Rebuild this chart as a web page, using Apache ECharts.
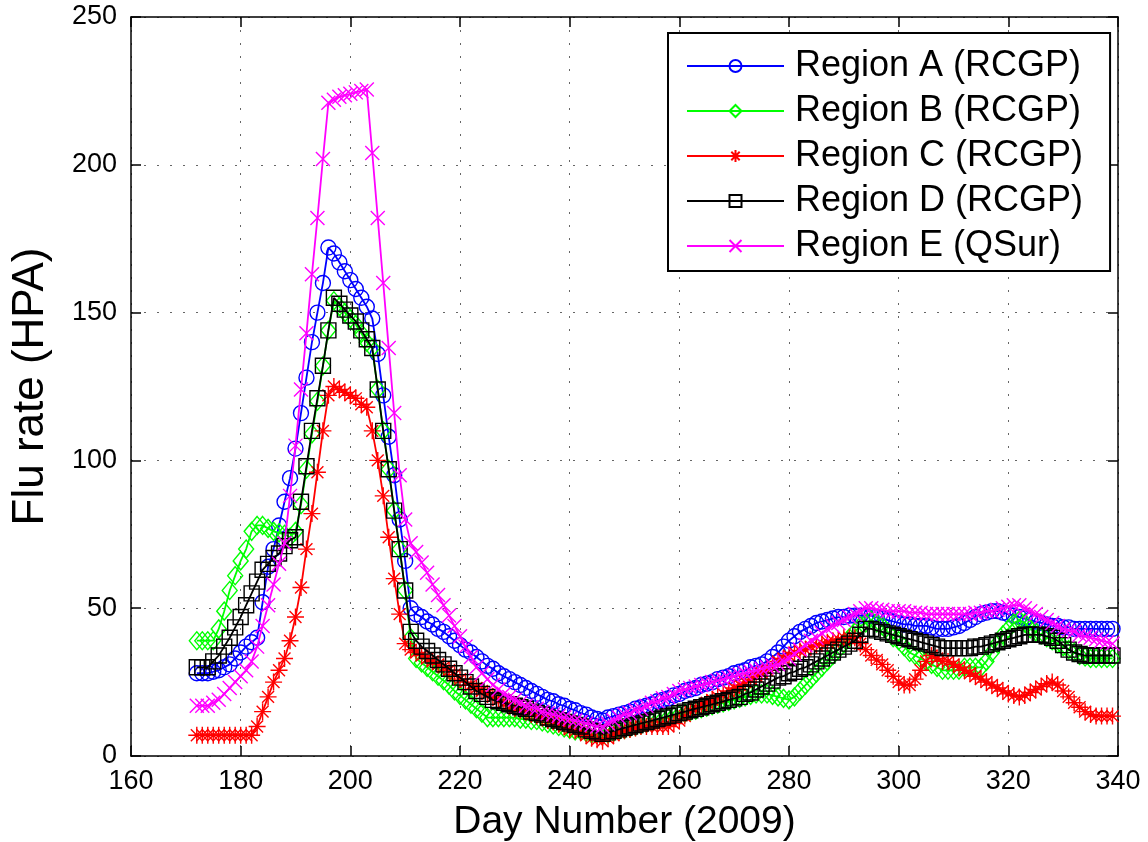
<!DOCTYPE html>
<html>
<head>
<meta charset="utf-8">
<script src="https://cdn.jsdelivr.net/npm/echarts@6/dist/echarts.min.js"></script>
<style>
  html, body { margin: 0; padding: 0; background: #fff; }
  #chart { width: 1148px; height: 842px; }
</style>
</head>
<body>
<div id="chart"></div>
<script>
// first day of the daily series (2009 day number), one value per day up to 339
var firstDay = 172;

var xTicks = [160, 180, 200, 220, 240, 260, 280, 300, 320, 340];
var yTicks = [0, 50, 100, 150, 200, 250];

var names = ['Region A (RCGP)', 'Region B (RCGP)', 'Region C (RCGP)', 'Region D (RCGP)', 'Region E (QSur)'];

var regionA = [
  28, 28, 28, 28.5, 29, 30, 31, 33, 35, 37,
  38.5, 40, 52, 64, 70, 78, 86, 94, 104, 116,
  128, 140, 150, 160, 172, 170, 167, 164, 161, 158,
  155, 152, 148, 136, 122, 108, 95, 80, 66, 50,
  48, 47, 45.5, 44.5, 43, 42, 40.5, 39, 37.5, 36,
  35, 33.5, 32, 30.5, 29.5, 28, 27, 26, 25, 24,
  23, 22, 21, 20, 19, 18.5, 17.5, 17, 16, 15.5,
  14.5, 14, 13, 12.5, 12, 13, 13.5, 14, 14.5, 15,
  16, 16.5, 17, 17.5, 18.5, 19, 19.5, 20.5, 21, 22,
  22.5, 23, 24, 24.5, 25, 26, 26.5, 27, 28, 28.5,
  29, 30, 30.5, 31, 32, 33.5, 35, 37, 39, 40.5,
  42, 43, 44, 45, 45.5, 46, 46.5, 47, 47, 47.5,
  47.5, 47.5, 47.5, 47.5, 47, 46.5, 46, 45.5, 45, 44.5,
  44.5, 44, 44, 44, 43.5, 43, 43, 43, 43.5, 44,
  45, 46, 47, 48, 48.5, 49, 49, 48.5, 48, 47.5,
  47, 46.5, 46, 45.5, 45, 44.5, 44, 44, 43.5, 43.5,
  43, 43, 43, 43, 43, 43, 43, 43
];

var regionB = [
  39, 39, 39, 39, 43, 49, 56, 61, 66, 70,
  76, 78, 78, 77, 76, 75.5, 75, 74, 76, 85,
  97, 109, 120, 132, 144, 154, 152, 150, 148, 146,
  143, 140, 138, 124, 110, 97, 83, 70, 56, 40,
  33, 31.5, 30, 28.5, 27, 25.5, 24, 22, 20.5, 19,
  17.5, 16, 14.5, 13, 13, 13, 13, 13, 13, 12.5,
  12.5, 12, 12, 11.5, 11, 10.5, 10, 9.5, 9, 8.5,
  8.5, 8, 7.5, 7.5, 7, 7.5, 8, 8.5, 9, 9.5,
  10, 10.5, 11, 11.5, 12, 12.5, 13, 13.5, 14, 14.5,
  15, 15.5, 16, 16.5, 17, 17.5, 18, 18.5, 19, 19.5,
  20, 20.5, 21, 21, 21, 20.5, 20, 19.5, 19, 20,
  22, 24, 26, 28, 30, 32, 34, 36, 38, 40,
  42, 44, 45, 46, 45, 44, 42, 40, 39, 37,
  35, 34, 33, 32, 31, 30, 29, 29, 29, 29,
  30, 30, 30, 30, 32, 35, 38, 41, 43, 45,
  46, 45, 43, 42, 41, 40, 39, 38, 37, 36,
  35, 34, 33.5, 33, 33, 33, 33, 33
];

var regionC = [
  7, 7, 7, 7, 7, 7, 7, 7, 7, 7,
  7, 10, 15, 20, 25, 29, 33, 39, 47, 57,
  70, 82, 96, 110, 122, 125, 124, 123, 122, 121,
  119, 118, 110, 100, 88, 74, 60, 48, 38, 36,
  35, 34, 33, 32, 31, 30, 29, 27.5, 26, 25,
  24, 23, 22, 21, 20, 19, 18, 17, 16, 15.5,
  15, 14, 13.5, 13, 12, 11.5, 11, 10, 9, 8.5,
  8, 7, 6, 5.5, 5, 6, 7, 8, 8.5, 9,
  9.5, 10, 10, 10, 10, 10, 10, 11, 12, 13.5,
  15, 16, 17, 18, 19, 20, 21, 22, 23, 24,
  25, 26, 27, 28, 29, 30.5, 32, 33, 34, 35,
  35.5, 36, 37, 37.5, 38, 38.5, 39, 39.5, 40, 40,
  40, 38, 36, 34, 32.5, 31, 29, 27, 25, 24,
  24, 26, 29, 32, 34, 33, 32, 32, 31, 30,
  29, 28, 27, 26, 25, 24, 23, 22, 21, 20.5,
  20, 20.5, 21.5, 22.5, 23.5, 24.5, 25, 24, 22, 20,
  18, 16.5, 15, 14, 13.5, 13.5, 13.5, 13.5
];

var regionD = [
  30, 30, 30, 32, 34, 37, 40, 43.5, 47, 51,
  55, 59, 63, 65, 67, 68.5, 71, 73, 74, 86,
  98, 110, 121, 132, 144, 155, 153, 151, 149, 147,
  144, 141, 138, 124, 110, 97, 83, 70, 56, 42,
  39, 37, 35.5, 34, 32.5, 31, 29.5, 28, 26.5, 25,
  23.5, 22, 21, 20, 19, 18.5, 18, 17.5, 17, 16.5,
  16, 15, 14.5, 14, 13, 12.5, 12, 11.5, 11, 10.5,
  10, 9, 8.5, 8, 7.5, 8, 8.5, 9, 9.5, 10,
  10.5, 11, 11.5, 12, 12.5, 13, 13.5, 14, 14.5, 15,
  15.5, 16, 16.5, 17, 17.5, 18, 18.5, 19, 19.5, 20,
  21, 21.5, 22.5, 23.5, 24.5, 25.5, 26.5, 27, 28, 28.5,
  29.5, 30, 31, 32, 33, 34, 35, 36, 37, 38,
  39, 41, 43, 43, 42.5, 42, 41.5, 41, 40.5, 40,
  39.5, 39, 38.5, 38, 37.5, 37, 36.5, 36.5, 36.5, 36.5,
  36.5, 36.5, 37, 37, 37.5, 38, 38.5, 39, 39.5, 40,
  40.5, 41, 41, 41, 41, 40.5, 40, 39, 37.5, 36,
  35, 34.5, 34, 34, 34, 34, 34, 34
];

var regionE = [
  17, 17, 17, 18, 19, 21, 23, 25, 27, 29,
  32, 37, 44, 51, 58, 65, 72, 88, 105, 124,
  143, 163, 182, 202, 221, 222, 223, 223.5, 224, 224.5,
  225, 225.5, 204, 182, 160, 138, 116, 95, 80, 72,
  69, 65.5, 62, 58, 54.5, 51, 47.5, 44, 40.5, 37,
  33.5, 30, 28, 26, 24, 22.5, 21, 20, 19, 18,
  17, 16.5, 16, 15, 14.5, 14, 13.5, 13, 12.5, 12,
  11.5, 11, 10.5, 10, 10, 11, 12, 13, 14, 14.5,
  15.5, 16, 17, 18, 18.5, 19.5, 20, 21, 22, 22.5,
  23, 23.5, 24, 24.5, 25, 25.5, 26, 26.5, 27, 27.5,
  28, 28.5, 29, 29.5, 30, 30.5, 31, 32, 33, 34.5,
  36, 37.5, 39, 40, 41.5, 43, 44, 45, 46, 47,
  48, 49, 50, 50, 49.5, 49.5, 49, 49, 49, 49,
  48.5, 48.5, 48.5, 48, 48, 48, 48, 48, 48, 48,
  48, 48, 48.5, 48.5, 49, 49, 49.5, 50, 50.5, 51,
  51, 50, 49, 48, 47, 46, 45, 44, 43, 42.5,
  42, 41, 40.5, 40, 39.5, 39, 38.5, 38
];

var colors = ['#0000ff', '#00ff00', '#ff0000', '#000000', '#ff00ff'];
var symbols = [
  'circle',
  'diamond',
  'path://M10,0L10,20M0,10L20,10M3,3L17,17M3,17L17,3',
  'rect',
  'path://M0,0L10,10M0,10L10,0'
];
var symbolSizes = [15, [15, 18], 17, 15, 14];

function pairs(values) {
  return values.map(function (v, i) { return [firstDay + i, v]; });
}

var allValues = [regionA, regionB, regionC, regionD, regionE];
var font = "'Liberation Sans', Arial, Helvetica, sans-serif";

var series = allValues.map(function (vals, k) {
  return {
    name: names[k],
    type: 'line',
    data: pairs(vals),
    symbol: symbols[k],
    symbolSize: symbolSizes[k],
    showAllSymbol: true,
    smooth: false,
    animation: false,
    lineStyle: { color: colors[k], width: 1.8 },
    itemStyle: { color: 'none', borderColor: colors[k], borderWidth: 1.4 },
    emphasis: { disabled: true },
    z: 2 + k
  };
});

var myChart = echarts.init(document.getElementById('chart'));

var dotted = { type: [2, 11], color: '#666', width: 1 };

var option = {
  backgroundColor: '#fff',
  animation: false,
  textStyle: { fontFamily: font, color: '#000' },
  grid: { left: 131, right: 30, top: 17, bottom: 86, show: false, outerBoundsMode: 'none', containLabel: false },
  legend: {
    orient: 'vertical',
    left: 668,
    top: 33,
    padding: [15, 27, 7, 18],
    itemGap: 9,
    itemWidth: 97,
    itemHeight: 15,
    borderColor: '#000',
    borderWidth: 2,
    backgroundColor: '#fff',
    textStyle: { fontSize: 36, fontFamily: font, color: '#000', lineHeight: 36, padding: [0, 0, 0, 6] },
    data: names
  },
  xAxis: [
    {
      type: 'value', min: xTicks[0], max: xTicks[xTicks.length - 1], interval: 20,
      position: 'bottom',
      name: 'Day Number (2009)', nameLocation: 'middle', nameGap: 47,
      nameTextStyle: { fontSize: 39, fontFamily: font, color: '#000' },
      axisLine: { show: true, onZero: false, lineStyle: { color: '#000', width: 1.5 } },
      axisTick: { inside: true, length: 10, lineStyle: { color: '#000', width: 1.5 } },
      axisLabel: { fontSize: 27, color: '#000', margin: 12, fontFamily: font },
      splitLine: { show: true, lineStyle: dotted }
    },
    {
      type: 'value', min: xTicks[0], max: xTicks[xTicks.length - 1], interval: 20,
      position: 'top',
      axisLine: { show: true, onZero: false, lineStyle: { color: '#000', width: 1.5 } },
      axisTick: { inside: true, length: 10, lineStyle: { color: '#000', width: 1.5 } },
      axisLabel: { show: false },
      splitLine: { show: false }
    }
  ],
  yAxis: [
    {
      type: 'value', min: yTicks[0], max: yTicks[yTicks.length - 1], interval: 50,
      position: 'left',
      name: 'Flu rate (HPA)', nameLocation: 'middle', nameGap: 78,
      nameTextStyle: { fontSize: 44, fontFamily: font, color: '#000' },
      axisLine: { show: true, onZero: false, lineStyle: { color: '#000', width: 1.5 } },
      axisTick: { inside: true, length: 10, lineStyle: { color: '#000', width: 1.5 } },
      axisLabel: { fontSize: 27, color: '#000', margin: 14, fontFamily: font },
      splitLine: { show: true, lineStyle: dotted }
    },
    {
      type: 'value', min: yTicks[0], max: yTicks[yTicks.length - 1], interval: 50,
      position: 'right',
      axisLine: { show: true, onZero: false, lineStyle: { color: '#000', width: 1.5 } },
      axisTick: { inside: true, length: 10, lineStyle: { color: '#000', width: 1.5 } },
      axisLabel: { show: false },
      splitLine: { show: false }
    }
  ],
  series: series
};

myChart.setOption(option);
window.onresize = function () {
  myChart.resize();
};
</script>
</body>
</html>
